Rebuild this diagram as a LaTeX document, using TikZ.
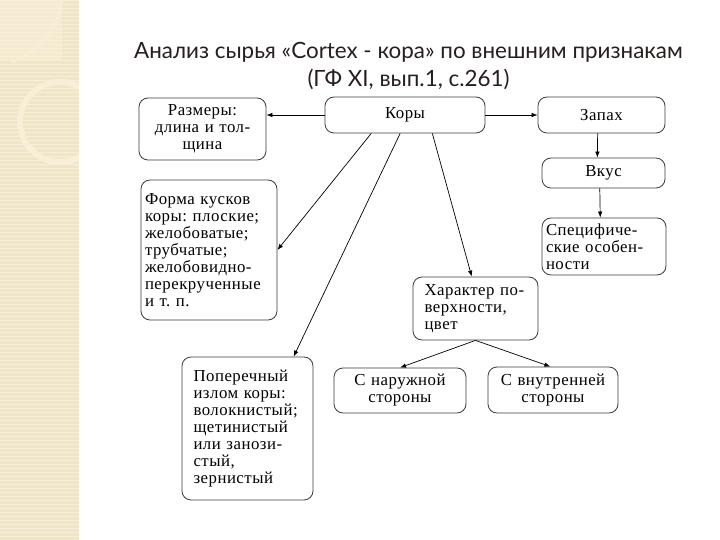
\documentclass[tikz,border=0pt]{standalone}
\usepackage{fontspec}
\setmainfont{Liberation Serif}
\newfontfamily\boxfont[LetterSpace=3]{Liberation Serif}
\newfontfamily\titlefont{Lato}
\frenchspacing
\usetikzlibrary{arrows.meta,calc}
\definecolor{strip}{RGB}{241,229,199}
\definecolor{stripl}{RGB}{247,239,216}
\definecolor{titlec}{RGB}{40,30,30}
\definecolor{boxc}{RGB}{60,60,60}
\tikzset{
  box/.style={draw=boxc, line width=0.8pt, rounded corners=9pt, inner sep=4pt, font=\boxfont\fontsize{16.8}{17}\selectfont},
  lbox/.style={box, align=left},
  cbox/.style={box, align=center},
  arr/.style={-{Latex[length=6pt,width=4.5pt]}, line width=0.7pt, black},
}
\begin{document}
\begin{tikzpicture}[x=1pt,y=-1pt]
\useasboundingbox (0,0) rectangle (720,540);
\fill[white] (0,0) rectangle (720,540);
% left decorative strip
\fill[strip] (0,0) rectangle (79,540);
\begin{scope}
\clip (0,0) rectangle (79,540);
\foreach \yy in {0,4,...,540} {\draw[stripl, line width=0.6pt] (0,\yy) -- (79,\yy);}
\fill[stripl, opacity=0.6] (0,0) rectangle (62,60);
\draw[stripl, line width=2pt] (12,62) .. controls (40,50) and (58,30) .. (62,0);
\draw[stripl, line width=6pt] (60,122) circle (40);
\end{scope}
% title
\node[font=\titlefont\fontsize{22.4}{28}\selectfont, text=titlec, align=center] (title) at (408.5,66)
  {Анализ сырья «Cortex - кора» по внешним признакам\\(ГФ XI, вып.1, с.261)};
% boxes
\node[cbox, minimum width=125, minimum height=62, text width=119] (razm) at (202.5,129) {Размеры:\\длина и тол-\\щина};
\node[cbox, minimum width=160, minimum height=36, text width=152] (kory) at (405,115) {Коры};
\node[cbox, minimum width=127, minimum height=36, text width=119] (zapah) at (601.5,115) {Запах};
\node[cbox, minimum width=123, minimum height=30, text width=115] (vkus) at (603.5,173) {Вкус};
\node[lbox, minimum width=122, minimum height=57, text width=116] (spec) at (604,246.5) {Специфиче-\\ские особен-\\ности};
\node[lbox, minimum width=136, minimum height=140, text width=128] (forma) at (209,250) {Форма кусков\\коры: плоские;\\желобоватые;\\трубчатые;\\желобовидно-\\перекрученные\\и т. п.};
\node[lbox, minimum width=125, minimum height=63, text width=102] (har) at (475.5,308.5) {Характер по-\\верхности,\\цвет};
\node[lbox, minimum width=131, minimum height=143, text width=108] (pop) at (247.5,428.5) {Поперечный\\излом коры:\\волокнистый;\\щетинистый\\или занози-\\стый,\\зернистый};
\node[cbox, minimum width=132, minimum height=45, text width=124] (nar) at (400,390.5) {С наружной\\стороны};
\node[cbox, minimum width=130, minimum height=46, text width=122] (vnut) at (553,390) {С внутренней\\стороны};
% connectors
\draw[arr] (kory.west) -- (kory.west -| razm.east);
\draw[arr] (kory.east) -- (zapah.west);
\draw[arr] ($(zapah.south west)!0.47!(zapah.south east)$) -- ($(vkus.north west)!0.45!(vkus.north east)$);
\draw[arr] ($(vkus.south west)!0.47!(vkus.south east)$) -- ($(spec.north west)!0.47!(spec.north east)$);
\draw[arr] ($(kory.south west)!0.29!(kory.south east)$) -- (forma.east);
\draw[arr] ($(kory.south west)!0.47!(kory.south east)$) -- ($(pop.north west)!0.85!(pop.north east)$);
\draw[arr] ($(kory.south west)!0.67!(kory.south east)$) -- ($(har.north west)!0.47!(har.north east)$);
\draw[arr] ($(har.south west)!0.5!(har.south east)$) -- (nar.north);
\draw[arr] ($(har.south west)!0.5!(har.south east)$) -- ($(vnut.north west)!0.48!(vnut.north east)$);
\end{tikzpicture}
\end{document}
